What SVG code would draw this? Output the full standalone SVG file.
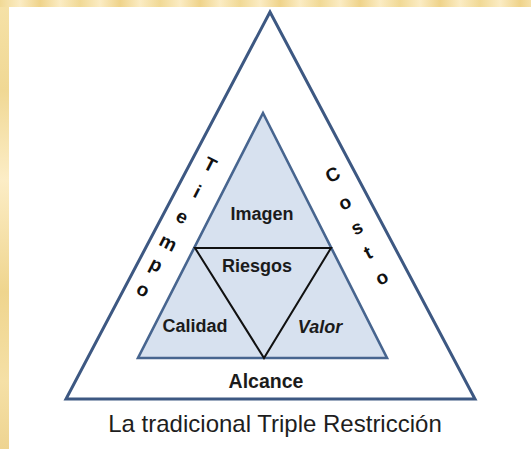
<svg xmlns="http://www.w3.org/2000/svg" width="531" height="449" viewBox="0 0 531 449">
  <defs>
    <linearGradient id="edgeTop" x1="0" y1="0" x2="40" y2="0" gradientUnits="userSpaceOnUse" spreadMethod="reflect">
      <stop offset="0" stop-color="#f1d995"/>
      <stop offset="0.5" stop-color="#fbecc4"/>
      <stop offset="1" stop-color="#efd38a"/>
    </linearGradient>
    <linearGradient id="edgeLeft" x1="0" y1="0" x2="0" y2="449" gradientUnits="userSpaceOnUse">
      <stop offset="0" stop-color="#f6e2a8"/>
      <stop offset="0.2" stop-color="#f0d894"/>
      <stop offset="0.4" stop-color="#fcedc6"/>
      <stop offset="0.65" stop-color="#efd58e"/>
      <stop offset="0.85" stop-color="#f5e0a6"/>
      <stop offset="1" stop-color="#eed491"/>
    </linearGradient>
    <style>
      .outer { fill: #ffffff; stroke: #3d5882; stroke-width: 3; stroke-linejoin: miter; }
      .inner { fill: #d7e1ef; stroke: #47658f; stroke-width: 2.6; stroke-linejoin: miter; }
      .inv { fill: none; stroke: #111111; stroke-width: 2; stroke-linejoin: miter; }
      .lbl { font-family: "Liberation Sans", Arial, sans-serif; font-weight: bold; font-size: 18px; fill: #1b1b1b; text-anchor: middle; }
      .side { font-family: "Liberation Sans", Arial, sans-serif; font-weight: bold; font-size: 19px; fill: #111111; text-anchor: middle; }
      .cap { font-family: "Liberation Sans", Arial, sans-serif; font-size: 24px; fill: #1e1e1e; text-anchor: middle; }
    </style>
  </defs>

  <!-- slide frame: textured gold edge and white panel -->
  <rect x="0" y="0" width="531" height="449" fill="url(#edgeLeft)"/>
  <rect x="0" y="0" width="531" height="7" fill="url(#edgeTop)"/>
  <rect x="9" y="7" width="522" height="442" fill="#ffffff"/>

  <!-- outer triangle -->
  <g id="outer-triangle">
    <polygon class="outer" points="270,12 66,399 475,399"/>
  </g>

  <!-- inner shaded triangle -->
  <g id="inner-triangle">
    <polygon class="inner" points="263,113 138,358 387,358"/>
  </g>

  <!-- inverted triangle -->
  <g id="inverted-triangle">
    <polygon class="inv" points="195,248 331,248 264,358"/>
  </g>

  <!-- region labels -->
  <g id="imagen"><text class="lbl" x="262" y="220">Imagen</text></g>
  <g id="riesgos"><text class="lbl" x="257" y="272">Riesgos</text></g>
  <g id="calidad"><text class="lbl" x="195" y="332">Calidad</text></g>
  <g id="valor"><text class="lbl" x="320" y="333" font-style="italic">Valor</text></g>
  <g id="alcance"><text class="lbl" x="266" y="388" style="font-size:19.5px">Alcance</text></g>

  <!-- left side word, letters stacked along the edge -->
  <g id="tiempo">
    <text class="side" transform="translate(210,165) rotate(27)" y="6">T</text>
    <text class="side" transform="translate(197,192) rotate(27)" y="6">i</text>
    <text class="side" transform="translate(182,217) rotate(27)" y="6">e</text>
    <text class="side" transform="translate(168,243) rotate(27)" y="6">m</text>
    <text class="side" transform="translate(156,265) rotate(27)" y="6">p</text>
    <text class="side" transform="translate(143,290) rotate(27)" y="6">o</text>
  </g>

  <!-- right side word -->
  <g id="costo">
    <text class="side" transform="translate(333,175) rotate(-27)" y="6">C</text>
    <text class="side" transform="translate(345,203) rotate(-27)" y="6">o</text>
    <text class="side" transform="translate(357,228) rotate(-27)" y="6">s</text>
    <text class="side" transform="translate(368,253) rotate(-27)" y="6">t</text>
    <text class="side" transform="translate(382,278) rotate(-27)" y="6">o</text>
  </g>

  <!-- caption -->
  <g id="caption"><text class="cap" x="275" y="432">La tradicional Triple Restricción</text></g>
</svg>
